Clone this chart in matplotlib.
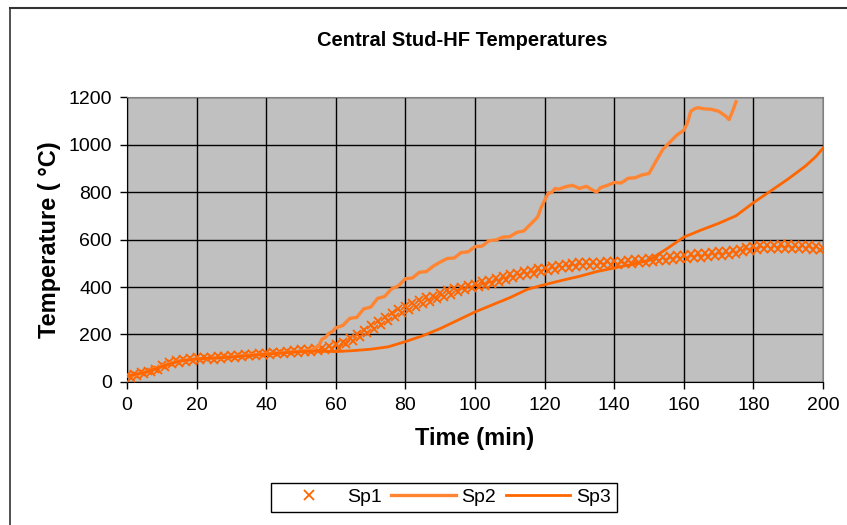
import matplotlib.pyplot as plt
import numpy as np
from matplotlib.lines import Line2D

plt.rcParams['font.family'] = ['Liberation Sans', 'DejaVu Sans']

# Sp1 - one reading per minute, 0..200 min (readings scatter a lot)
sp1_time = np.arange(0, 201, 1)
sp1_temp = [
    30, 18, 34, 24, 40, 34, 46, 40, 56, 52,
    72, 62, 84, 76, 92, 82, 98, 86, 102, 90,
    104, 92, 104, 96, 106, 94, 110, 98, 110, 100,
    112, 100, 114, 104, 118, 108, 118, 110, 122, 112,
    124, 112, 126, 116, 128, 118, 132, 120, 134, 122,
    138, 126, 140, 128, 144, 132, 144, 134, 150, 140,
    158, 144, 170, 158, 186, 172, 202, 188, 220, 206,
    240, 222, 258, 242, 274, 258, 292, 274, 306, 292,
    320, 302, 332, 316, 344, 328, 356, 338, 364, 348,
    374, 358, 386, 368, 394, 378, 402, 386, 408, 394,
    414, 398, 424, 406, 430, 414, 440, 422, 446, 430,
    454, 438, 460, 446, 466, 450, 472, 456, 478, 462,
    482, 466, 488, 472, 494, 478, 498, 482, 502, 486,
    504, 488, 504, 490, 506, 490, 506, 492, 508, 492,
    510, 494, 510, 496, 514, 498, 516, 500, 518, 502,
    522, 504, 524, 508, 528, 510, 530, 514, 534, 518,
    536, 520, 538, 522, 542, 524, 544, 528, 546, 530,
    550, 532, 552, 536, 556, 540, 560, 546, 568, 552,
    574, 556, 576, 558, 578, 560, 578, 562, 580, 562,
    580, 562, 578, 560, 578, 558, 576, 556, 574, 556,
    566,
]

sp2_time = [0, 2.5, 5, 7.5, 10, 12.5, 15, 17.5, 20, 25, 30, 35, 40, 45, 50,
            53, 55, 56, 57, 58, 59, 60, 62, 64, 66, 68, 70, 72, 74, 76, 78, 80,
            82, 84, 86, 88, 90, 92, 94, 96, 98, 100, 102, 104, 106, 108, 110,
            112, 114, 116, 118, 119, 120, 121, 122, 123, 124, 126, 128, 130,
            132, 134, 135, 136, 138, 140, 142, 144, 146, 148, 150, 152, 154,
            156, 158, 160, 161, 162, 163, 164, 166, 168, 170, 172, 173, 174, 175]
sp2_temp = [25, 30, 40, 55, 68, 80, 88, 93, 97, 100, 106, 114, 118, 124, 130,
            136, 150, 180, 188, 205, 212, 228, 238, 268, 272, 308, 315, 352,
            360, 392, 405, 435, 438, 462, 465, 488, 505, 520, 522, 545, 548,
            570, 572, 595, 598, 610, 612, 630, 636, 665, 695, 735, 765, 795,
            798, 815, 812, 822, 828, 815, 824, 806, 800, 818, 828, 840, 838,
            858, 860, 872, 878, 930, 980, 1010, 1040, 1060, 1090, 1140, 1150,
            1155, 1150, 1148, 1140, 1120, 1105, 1140, 1180]

sp3_time = [0, 5, 10, 15, 20, 30, 40, 50, 55, 60, 65, 70, 75, 80, 85, 90, 95,
            100, 105, 110, 115, 120, 125, 130, 135, 140, 145, 150, 152, 155,
            160, 165, 170, 175, 180, 185, 190, 195, 198, 200]
sp3_temp = [25, 40, 65, 88, 97, 105, 117, 128, 130, 128, 132, 138, 148, 170,
            195, 225, 260, 295, 325, 355, 390, 410, 428, 445, 465, 480, 495,
            512, 532, 560, 610, 640, 668, 700, 755, 805, 855, 910, 950, 985]

fig = plt.figure(figsize=(8.47, 5.25), dpi=100)
ax = fig.add_axes([0.150, 0.2724, 0.8217, 0.5428])
ax.set_facecolor('#C0C0C0')

ax.plot(sp1_time, sp1_temp, linestyle='none', marker='x', markersize=6,
        markeredgewidth=1.3, color='#FF6600', label='Sp1', zorder=3)
ax.plot(sp2_time, sp2_temp, color='#FF8533', linewidth=2.4, label='Sp2', zorder=4)
ax.plot(sp3_time, sp3_temp, color='#FF6600', linewidth=2.0, label='Sp3', zorder=4)

ax.set_xlim(0, 200)
ax.set_ylim(0, 1200)
ax.set_xticks(np.arange(0, 201, 20))
ax.set_yticks(np.arange(0, 1201, 200))
ax.grid(True, color='black', linewidth=1)
ax.set_axisbelow(True)
ax.tick_params(direction='out', length=5, width=1, labelsize=14, pad=6)
ax.spines['left'].set_color('black')
ax.spines['bottom'].set_color('black')
ax.spines['top'].set_color('#808080')
ax.spines['right'].set_color('#808080')

ax.set_xlabel('Time (min)', fontsize=17, fontweight='bold', labelpad=9)
ax.set_ylabel('Temperature ( °C)', fontsize=17, fontweight='bold', labelpad=5)
fig.text(0.546, 0.922, 'Central Stud-HF Temperatures', fontsize=14.5,
         fontweight='bold', ha='center', va='center')

leg = fig.legend(loc='center', bbox_to_anchor=(0.524, 0.053), ncol=3,
                 fontsize=14, frameon=True, fancybox=False, framealpha=1,
                 edgecolor='black', handlelength=3.3, handletextpad=0.3,
                 columnspacing=0.5, borderpad=0.3, markerscale=1.3)
leg.get_frame().set_linewidth(1)

# outer chart border (top and left visible in the reference)
fig.add_artist(Line2D([10 / 847, 1], [1 - 8 / 525, 1 - 8 / 525],
                      transform=fig.transFigure, color='#333333', linewidth=1.5))
fig.add_artist(Line2D([10 / 847, 10 / 847], [0, 1 - 8 / 525],
                      transform=fig.transFigure, color='#333333', linewidth=1.2))

fig.savefig('out.png', dpi=100)
